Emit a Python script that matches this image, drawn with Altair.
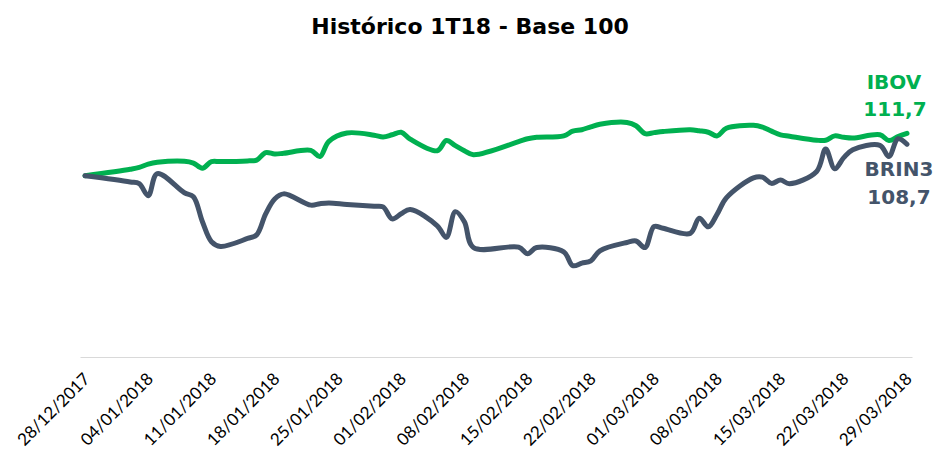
import altair as alt
import pandas as pd

dates = [
    "2017-12-28", "2018-01-02", "2018-01-03", "2018-01-04", "2018-01-05",
    "2018-01-08", "2018-01-09", "2018-01-10", "2018-01-11", "2018-01-12",
    "2018-01-15", "2018-01-16", "2018-01-17", "2018-01-18", "2018-01-19",
    "2018-01-22", "2018-01-23", "2018-01-24", "2018-01-26",
    "2018-01-29", "2018-01-30", "2018-01-31", "2018-02-01", "2018-02-02",
    "2018-02-05", "2018-02-06", "2018-02-07", "2018-02-08", "2018-02-09",
    "2018-02-14", "2018-02-15", "2018-02-16",
    "2018-02-19", "2018-02-20", "2018-02-21", "2018-02-22", "2018-02-23",
    "2018-02-26", "2018-02-27", "2018-02-28", "2018-03-01", "2018-03-02",
    "2018-03-05", "2018-03-06", "2018-03-07", "2018-03-08", "2018-03-09",
    "2018-03-12", "2018-03-13", "2018-03-14", "2018-03-15", "2018-03-16",
    "2018-03-19", "2018-03-20", "2018-03-21", "2018-03-22", "2018-03-23",
    "2018-03-26", "2018-03-27", "2018-03-28", "2018-03-29",
]

ibov = [
    100.0, 101.8, 102.3, 103.2, 103.7, 104.0, 103.5, 102.1, 103.9, 103.9,
    104.1, 104.3, 106.4, 106.0, 106.2, 107.0, 105.3, 109.5, 111.8, 111.2,
    110.7, 111.3, 112.0, 110.1, 106.9, 109.7, 108.3, 106.9, 105.8, 109.4,
    110.2, 110.6, 111.0, 112.3, 112.7, 113.5, 114.2, 114.7, 113.8, 111.6,
    111.9, 112.2, 112.7, 112.4, 112.0, 111.0, 113.1, 113.9, 113.4, 112.3,
    111.3, 110.9, 109.8, 109.8, 111.0, 110.6, 110.4, 111.3, 109.7, 110.8,
    111.7,
]

brin3 = [
    100.0, 98.3, 97.8, 94.5, 100.6, 95.3, 94.2, 87.3, 81.8, 80.5,
    82.7, 83.7, 89.5, 93.6, 95.0, 91.9, 92.3, 92.5, 92.1, 91.6,
    91.4, 88.1, 89.5, 90.7, 86.2, 83.0, 90.1, 87.3, 80.2, 80.3,
    78.5, 80.2, 79.0, 75.2, 75.9, 76.5, 79.3, 81.6, 82.0, 80.2,
    86.0, 85.5, 84.1, 88.3, 85.9, 89.5, 93.9, 99.4, 99.6, 97.9,
    98.8, 97.8, 101.2, 107.4, 101.9, 105.0, 107.2, 108.4, 105.3, 110.2,
    108.7,
]

series_names = ["IBOV", "BRIN3"]
series_colors = ["#00B050", "#44546A"]

tick_dates = [
    (2017, 12, 28), (2018, 1, 4), (2018, 1, 11), (2018, 1, 18), (2018, 1, 25),
    (2018, 2, 1), (2018, 2, 8), (2018, 2, 15), (2018, 2, 22), (2018, 3, 1),
    (2018, 3, 8), (2018, 3, 15), (2018, 3, 22), (2018, 3, 29),
]

rows = []
for name, vals in zip(series_names, [ibov, brin3]):
    for d, v in zip(dates, vals):
        rows.append({"date": d + "T00:00:00", "series": name, "value": v})
df = pd.DataFrame(rows)

labels = pd.DataFrame({
    "date": [dates[-1] + "T00:00:00"] * 2,
    "series": series_names,
    "value": [ibov[-1], brin3[-1]],
    "valtxt": [f"{ibov[-1]:.1f}".replace(".", ","), f"{brin3[-1]:.1f}".replace(".", ",")],
})

x_scale = alt.Scale(domain=[
    alt.DateTime(year=2017, month=12, date=27, hours=10, minutes=40),
    alt.DateTime(year=2018, month=3, date=29, hours=13, minutes=20),
])
y_scale = alt.Scale(domain=[50, 130], nice=False, zero=False)
color_scale = alt.Scale(domain=series_names, range=series_colors)

x_enc = alt.X(
    "date:T",
    scale=x_scale,
    title=None,
    axis=alt.Axis(
        values=[alt.DateTime(year=y, month=m, date=d) for (y, m, d) in tick_dates],
        format="%d/%m/%Y",
        labelAngle=315,
        labelAlign="right",
        labelBaseline="middle",
        labelPadding=19,
        labelOffset=2,
        labelFont="Lato",
        labelFontSize=17,
        labelColor="#000000",
        ticks=False,
        grid=False,
        domainColor="#D9D9D9",
        domainWidth=1,
        labelOverlap=False,
        labelBound=False,
        labelFlush=False,
    ),
)
y_enc = alt.Y("value:Q", scale=y_scale, axis=None)

lines = alt.Chart(df).mark_line(
    strokeWidth=5, interpolate="catmull-rom", strokeCap="round", strokeJoin="round"
).encode(
    x=x_enc,
    y=y_enc,
    color=alt.Color("series:N", scale=color_scale, legend=None),
    order=alt.Order("series:N", sort="descending"),
    detail="series:N",
)


def lab(series, field, dx, dy):
    return alt.Chart(labels).transform_filter(
        alt.datum.series == series
    ).mark_text(
        font="DejaVu Sans", fontWeight="bold", fontSize=20,
        align="center", baseline="middle", dx=dx, dy=dy,
    ).encode(
        x=alt.X("date:T", scale=x_scale),
        y=alt.Y("value:Q", scale=y_scale),
        text=f"{field}:N",
        color=alt.Color("series:N", scale=color_scale, legend=None),
    )


chart = alt.layer(
    lines,
    lab("IBOV", "series", -13, -50),
    lab("IBOV", "valtxt", -12, -23),
    lab("BRIN3", "series", -8, 26),
    lab("BRIN3", "valtxt", -8, 54),
).properties(
    width=832,
    height=290,
    title=alt.TitleParams(
        "Histórico 1T18 - Base 100",
        font="DejaVu Sans", fontSize=22, fontWeight="bold", color="#000000",
        anchor="middle", dx=-26, offset=28,
    ),
    autosize=alt.AutoSizeParams(type="none"),
    padding={"left": 72, "top": 59, "right": 21, "bottom": 92},
).configure_view(stroke=None)

chart.save("out.html", embed_options={"renderer": "svg", "actions": False})
